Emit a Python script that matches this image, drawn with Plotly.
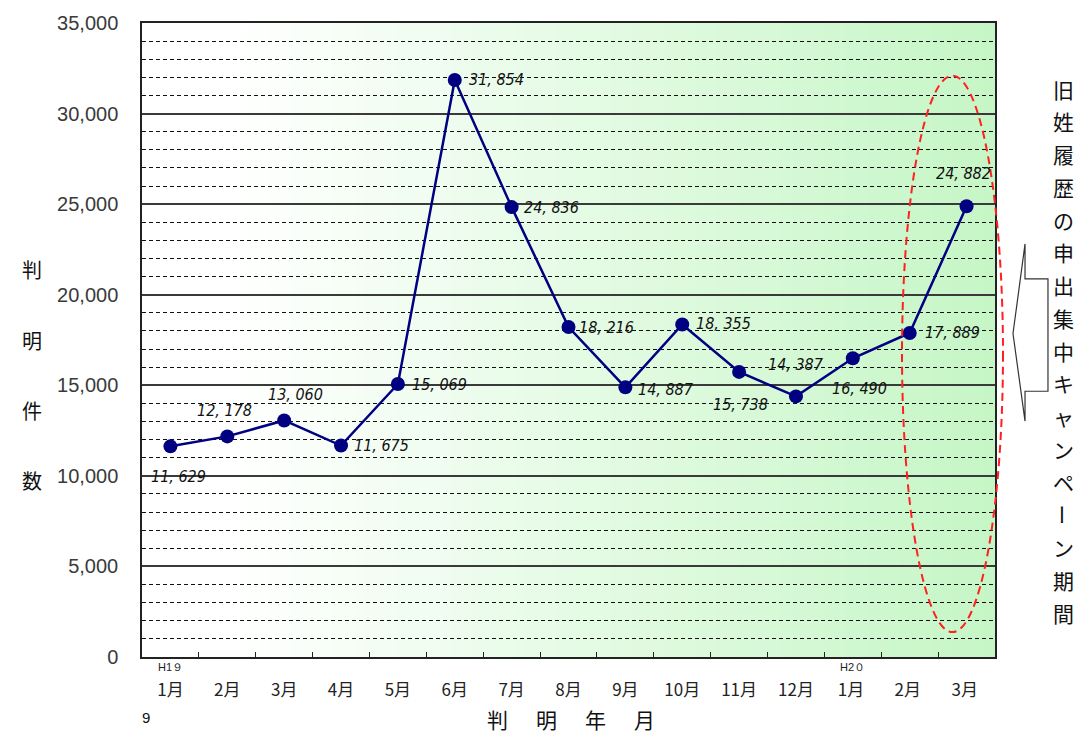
import plotly.graph_objects as go

# ---- data ----
months = ["1月", "2月", "3月", "4月", "5月", "6月", "7月", "8月", "9月",
          "10月", "11月", "12月", "1月 ", "2月 ", "3月 "]
counts = [11629, 12178, 13060, 11675, 15069, 31854, 24836, 18216, 14887,
          18355, 15738, 14387, 16490, 17889, 24882]
count_labels = ["11, 629", "12, 178", "13, 060", "11, 675", "15, 069", "31, 854",
                "24, 836", "18, 216", "14, 887", "18, 355", "15, 738", "14, 387",
                "16, 490", "17, 889", "24, 882"]
y_ticks = [0, 5000, 10000, 15000, 20000, 25000, 30000, 35000]
y_tick_text = ["0", "5,000", "10,000", "15,000", "20,000", "25,000", "30,000", "35,000"]
era_marks = {"1月": "H1９", "1月 ": "H2０"}
y_title = "判明件数"
x_title = "判明年月"
side_text = "旧姓履歴の申出集中キャンペーン期間"

# ---- label styling (xshift, yshift, anchor) ----
label_style = [
    (8, -30, "center"), (-3, 26, "center"), (11, 26, "center"), (11, 0, "left"),
    (12, 0, "left"), (12, 0, "left"), (10, 0, "left"), (8, 0, "left"),
    (11, -2, "left"), (12, 1, "left"), (1, -33, "center"), (0, 32, "center"),
    (7, -30, "center"), (13, 0, "left"), (-3, 33, "center"),
]

W, H = 1080, 738
L, R, T, B = 142, 995, 20, 657
pw, ph = R - L, B - T


def px(x):
    return (x - L) / pw


def py(y):
    return (B - y) / ph


fig = go.Figure()
fig.add_trace(go.Scatter(
    x=months, y=counts, mode="lines+markers",
    line=dict(color="#000080", width=2.5),
    marker=dict(color="#000080", size=14),
    hoverinfo="x+y", showlegend=False,
))

shapes = []
# gradient background (white -> light green)
n = 80
for i in range(n):
    f = i / (n - 1)
    t = max(0.0, (f - 0.1) / 0.9)
    r = int(round(255 - (255 - 198) * t))
    g = int(round(255 - (255 - 246) * t))
    b = int(round(255 - (255 - 198) * t))
    shapes.append(dict(type="rect", xref="paper", yref="paper",
                       x0=i / n, x1=(i + 1) / n + 0.002, y0=0, y1=1,
                       fillcolor=f"rgb({r},{g},{b})", line=dict(width=0),
                       layer="below"))
# red dashed ellipse
shapes.append(dict(type="circle", xref="paper", yref="paper",
                   x0=px(902), x1=px(1003), y0=py(632), y1=py(73),
                   line=dict(color="#ff2020", width=2, dash="8px,5px"),
                   layer="above"))
# arrow
pts = [(1048, 277), (1025, 277), (1025, 242), (1013, 332), (1025, 420),
       (1025, 390), (1048, 390)]
path = "M " + " L ".join(f"{px(x):.4f},{py(y):.4f}" for x, y in pts) + " Z"
shapes.append(dict(type="path", xref="paper", yref="paper", path=path,
                   fillcolor="white", line=dict(color="#333333", width=1.2)))

annotations = []
label_font = dict(family="Liberation Sans Narrow, DejaVu Sans Condensed, sans-serif",
                  size=16, color="#111111", style="italic")
for m, v, lab, (dx, dy, anc) in zip(months, counts, count_labels, label_style):
    annotations.append(dict(x=m, y=v, xref="x", yref="y", text=lab, showarrow=False,
                            xanchor=anc, yanchor="middle", xshift=dx, yshift=dy,
                            font=label_font))
# era marks
for m, t in era_marks.items():
    annotations.append(dict(x=m, y=0, xref="x", yref="y", text=t, showarrow=False,
                            xanchor="center", yanchor="middle", yshift=-10,
                            font=dict(family="Liberation Sans, sans-serif", size=11,
                                      color="#222")))
cjk = "Noto Sans CJK JP, sans-serif"


def txt(x, y, s, size, family=cjk, angle=0):
    return dict(x=px(x), y=py(y), xref="paper", yref="paper", text=s,
                showarrow=False, xanchor="center", yanchor="middle",
                textangle=angle, font=dict(family=family, size=size, color="#111"))


# y title (vertical stacked)
for i, ch in enumerate(y_title):
    annotations.append(txt(32, 268 + i * 70.5, ch, 20))
# x title
for i, ch in enumerate(x_title):
    annotations.append(txt(497 + i * 49, 719, ch, 21))
# side vertical text
for i, ch in enumerate(side_text):
    annotations.append(txt(1063, 86 + i * 32.9, ch, 21,
                           angle=90 if ch == "ー" else 0))
annotations.append(txt(146, 718, "9", 15, family="Liberation Sans, sans-serif"))

fig.update_layout(
    width=W, height=H,
    margin=dict(l=L, r=W - R, t=T, b=H - B),
    paper_bgcolor="white", plot_bgcolor="white",
    shapes=shapes, annotations=annotations,
    xaxis=dict(type="category", range=[-0.5, 14.5], tickson="boundaries",
               ticks="inside", ticklen=5, tickcolor="#222", tickwidth=1,
               showgrid=False, showline=True, linecolor="#222", linewidth=1.5,
               mirror=True, ticklabelstandoff=17,
               tickfont=dict(family=cjk, size=17, color="#222")),
    yaxis=dict(range=[0, 35000], tickvals=y_ticks, ticktext=y_tick_text,
               showgrid=True, gridcolor="#3a3a3a", gridwidth=1.5,
               minor=dict(dtick=1000, showgrid=True, gridcolor="#111",
                          gridwidth=1.2, griddash="4px,3px"),
               showline=True, linecolor="#222", linewidth=1.5, mirror=True,
               zeroline=False, ticks="", ticklabelstandoff=18,
               tickfont=dict(family="Liberation Sans, sans-serif", size=20,
                             color="#3a3a3a")),
)

fig.write_html("out.html", config={"displayModeBar": False},
               post_script="document.body.style.margin='0';"
                           "document.body.style.overflow='hidden';")
